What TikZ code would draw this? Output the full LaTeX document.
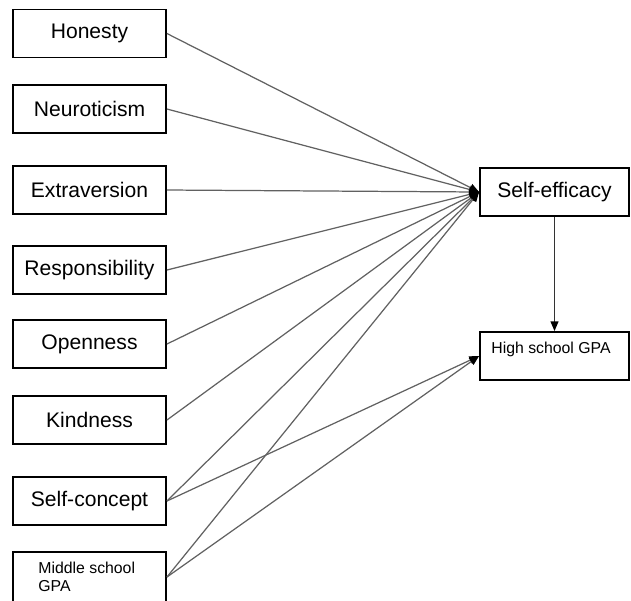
\documentclass[tikz,border=0pt]{standalone}
\usepackage{fontspec}
\setmainfont{Liberation Sans}
\usetikzlibrary{arrows.meta}

\begin{document}
\begin{tikzpicture}[x=0.02cm, y=-0.02cm]
   \tikzstyle{trait}=[draw=black, line width=1.1pt, rectangle, minimum width=3.06cm, minimum height=0.96cm, inner sep=0pt, font=\fontsize{12}{14}\selectfont]
   \tikzstyle{smallbox}=[draw=black, line width=1.1pt, rectangle, minimum width=3.06cm, minimum height=1cm, inner sep=0pt]
   \tikzstyle{smalltext}=[inner sep=0pt, anchor=north west, align=left, font=\fontsize{9}{10.3}\selectfont]
   \tikzstyle{path}=[draw=black!62, line width=0.7pt, -{Triangle[length=5.5pt, width=4.5pt, color=black]}]

\useasboundingbox (0,0) rectangle (631,600);

\node[trait] (hon) at (89.5,33.5) {Honesty};
\node[trait] (neu) at (89.5,109) {Neuroticism};
\node[trait] (ext) at (89.5,190) {Extraversion};
\node[trait] (res) at (89.5,270) {Responsibility};
\node[trait] (ope) at (89.5,344) {Openness};
\node[trait] (kin) at (89.5,420) {Kindness};
\node[trait] (sel) at (89.5,501) {Self-concept};
\node[smallbox] (mid) at (89.5,577) {};
\node[smalltext] (midtext) at ([shift={(26,11)}]mid.north west) {Middle school\\GPA};

\node[trait, minimum width=2.98cm] (eff) at (554.5,192) {Self-efficacy};
\node[smallbox, minimum width=2.98cm, minimum height=0.96cm] (gpa) at (554.5,356) {};
\node[smalltext] (gpatext) at ([shift={(12,11)}]gpa.north west) {High school GPA};

\foreach \v in {hon,neu,ext,res,ope,kin,sel,mid}
    \draw[path] (\v.east) -- (eff.west);
\draw[path] (sel.east) -- (gpa.west);
\draw[path] (mid.east) -- (gpa.west);
\draw[path, draw=black!80] (eff.south) -- (gpa.north);

\end{tikzpicture}
\end{document}
